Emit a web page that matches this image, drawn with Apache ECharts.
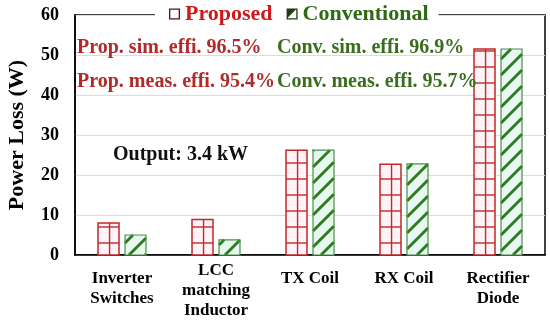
<!DOCTYPE html>
<html>
<head>
<meta charset="utf-8">
<script src="https://cdn.jsdelivr.net/npm/echarts@6/dist/echarts.min.js"></script>
<style>
html,body{margin:0;padding:0;background:#fff;}
#chart{width:550px;height:325px;}
</style>
</head>
<body>
<div id="chart"></div>
<script>
// ---- data ----
const categories = ['Inverter\nSwitches', 'LCC\nmatching\nInductor', 'TX Coil', 'RX Coil', 'Rectifier\nDiode'];
const proposedLoss = [8.0, 8.9, 26.2, 22.7, 51.5];
const conventionalLoss = [5.0, 3.8, 26.2, 22.8, 51.5];
const yTicks = [0, 10, 20, 30, 40, 50, 60];
const seriesNames = ['Proposed', 'Conventional'];
const notes = ['Prop. sim. effi. 96.5%', 'Prop. meas. effi. 95.4%', 'Conv. sim. effi. 96.9%', 'Conv. meas. effi. 95.7%', 'Output: 3.4 kW'];

const FONT = "'Liberation Serif', 'Times New Roman', serif";
const RED = '#c0282a';
const GREEN = '#2d7a1f';

function makeRenderer(which) {
  return function (params, api) {
    const i = api.value(0), v = api.value(1);
    const base = api.coord([i, 0]);
    const top = api.coord([i, v]);
    const bw = 21, off = 13.5;
    const cx = base[0] + (which === 0 ? -off : off);
    const x0 = cx - bw / 2, x1 = cx + bw / 2, y0 = top[1], y1 = base[1];
    const children = [];
    if (which === 0) {
      children.push({type: 'rect', shape: {x: x0, y: y0, width: bw, height: y1 - y0}, style: {fill: '#fff3f7', stroke: null}});
      const vx = x0 + bw * 0.55;
      children.push({type: 'line', shape: {x1: vx, y1: y0, x2: vx, y2: y1}, style: {stroke: RED, lineWidth: 1.4}});
      for (let y = y1 - 12; y > y0 + 1; y -= 16) {
        children.push({type: 'line', shape: {x1: x0, y1: y, x2: x1, y2: y}, style: {stroke: RED, lineWidth: 1.4}});
      }
      children.push({type: 'rect', shape: {x: x0, y: y0, width: bw, height: y1 - y0}, style: {fill: null, stroke: RED, lineWidth: 1.5}});
    } else {
      children.push({type: 'rect', shape: {x: x0, y: y0, width: bw, height: y1 - y0}, style: {fill: '#e6f7f0', stroke: null}});
      const cmin = x0 + y0, cmax = x1 + y1;
      const period = 16;
      for (let c = Math.ceil(cmin / period) * period; c <= cmax; c += period) {
        const xa = Math.max(x0, c - y1), xb = Math.min(x1, c - y0);
        if (xb - xa < 0.5) continue;
        children.push({type: 'line', shape: {x1: xa, y1: c - xa, x2: xb, y2: c - xb}, style: {stroke: GREEN, lineWidth: 2.8}});
      }
      children.push({type: 'rect', shape: {x: x0, y: y0, width: bw, height: y1 - y0}, style: {fill: null, stroke: '#4a8f4a', lineWidth: 1.2}});
    }
    return {type: 'group', children: children};
  };
}

const ringPath = 'path://M0,0L10,0L10,10L0,10Z M1.2,1.2L1.2,8.8L8.8,8.8L8.8,1.2Z';
const ringTriPath = 'path://M0,0L10,0L10,10L0,10Z M1.2,1.2L1.2,8.8L8.8,8.8L8.8,1.2Z M1.2,1.2L8.2,1.2L1.2,8.2Z';

const chart = echarts.init(document.getElementById('chart'), null, {renderer: 'canvas'});
chart.setOption({
  animation: false,
  backgroundColor: '#fff',
  grid: {left: 75, right: 5, top: 15, bottom: 70, show: true, borderColor: '#000', borderWidth: 1.5,
         backgroundColor: 'transparent', containLabel: false, outerBoundsMode: 'none'},
  legend: {
    left: 155, top: 1, z: 20,
    padding: [2, 10, 2, 14],
    backgroundColor: '#fff',
    itemGap: 14, itemWidth: 11, itemHeight: 11,
    selectedMode: false,
    textStyle: {fontFamily: FONT, fontSize: 22, fontWeight: 'bold'},
    data: [
      {name: seriesNames[0], icon: ringPath, itemStyle: {color: '#4a1616', borderWidth: 0}, textStyle: {color: '#cc1a1a'}},
      {name: seriesNames[1], icon: ringTriPath, itemStyle: {color: '#1f3d12', borderWidth: 0}, textStyle: {color: '#2e6a12'}}
    ]
  },
  xAxis: {
    type: 'category',
    data: categories.map(c => c.startsWith('LCC') ? {value: c, textStyle: {padding: [-8, 0, 0, 0]}} : c),
    axisLine: {lineStyle: {color: '#000', width: 1.5}},
    axisTick: {show: false},
    axisLabel: {interval: 0, margin: 14, color: '#000', fontFamily: FONT, fontSize: 17, fontWeight: 'bold', lineHeight: 20, verticalAlign: 'top'}
  },
  yAxis: {
    type: 'value', min: yTicks[0], max: yTicks[yTicks.length - 1], interval: yTicks[1] - yTicks[0],
    name: 'Power Loss (W)', nameLocation: 'middle', nameGap: 47,
    nameTextStyle: {fontFamily: FONT, fontSize: 22, fontWeight: 'bold', color: '#000'},
    axisLine: {show: true, lineStyle: {color: '#000', width: 1.5}},
    axisTick: {show: false},
    splitLine: {lineStyle: {color: '#dcdcdc', width: 1}},
    axisLabel: {margin: 16, color: '#000', fontFamily: FONT, fontSize: 18, fontWeight: 'bold'}
  },
  graphic: [
    {type: 'text', left: 77, top: 38, z: 10, style: {text: notes[0], fill: '#b22a2a', font: 'bold 20px ' + FONT}},
    {type: 'text', left: 77, top: 72, z: 10, style: {text: notes[1], fill: '#b22a2a', font: 'bold 20px ' + FONT}},
    {type: 'text', left: 277, top: 38, z: 10, style: {text: notes[2], fill: '#3a6e1e', font: 'bold 20px ' + FONT}},
    {type: 'text', left: 277, top: 72, z: 10, style: {text: notes[3], fill: '#3a6e1e', font: 'bold 20px ' + FONT}},
    {type: 'text', left: 113, top: 145, z: 10, style: {text: notes[4], fill: '#111', font: 'bold 20px ' + FONT}}
  ],
  series: [
    {name: seriesNames[0], type: 'custom', renderItem: makeRenderer(0), encode: {x: 0, y: 1},
     itemStyle: {color: RED}, data: proposedLoss.map((v, i) => [i, v])},
    {name: seriesNames[1], type: 'custom', renderItem: makeRenderer(1), encode: {x: 0, y: 1},
     itemStyle: {color: GREEN}, data: conventionalLoss.map((v, i) => [i, v])}
  ]
});
</script>
</body>
</html>
